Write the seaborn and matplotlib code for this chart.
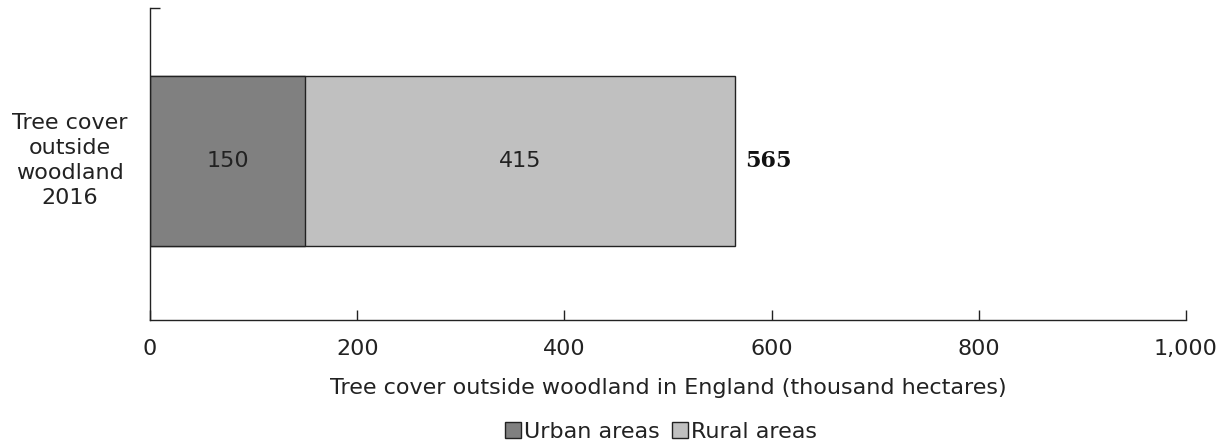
import matplotlib
matplotlib.use("Agg")
import matplotlib.pyplot as plt
import matplotlib.transforms as mtransforms
import seaborn as sns
import pandas as pd
from matplotlib.patches import Patch

categories = ["Tree cover\noutside\nwoodland\n2016"]
urban = [150]
rural = [415]
series_names = ["Urban areas", "Rural areas"]
x_ticks = [0, 200, 400, 600, 800, 1000]
x_tick_labels = ["0", "200", "400", "600", "800", "1,000"]
x_label = "Tree cover outside woodland in England (thousand hectares)"

sns.set_theme(style="white")
plt.rcParams['font.family'] = ['DejaVu Sans']
FS = 16
TXT = "#222222"

df = pd.DataFrame({
    "cat": categories,
    "urban": urban,
    "total": [u + r for u, r in zip(urban, rural)],
})

fig = plt.figure(figsize=(12.23, 4.45), dpi=100)
ax = fig.add_axes([150/1223, 1 - 320/445, (1186-150)/1223, (320-8)/445])

sns.barplot(data=df, y="cat", x="total", orient="h", color="#C0C0C0",
            edgecolor="#222222", linewidth=1.0, width=0.545, ax=ax, saturation=1)
sns.barplot(data=df, y="cat", x="urban", orient="h", color="#808080",
            edgecolor="#222222", linewidth=1.0, width=0.545, ax=ax, saturation=1)

ax.set_xlim(0, 1000)
ax.set_ylim(0.51, -0.49)
ax.set_xticks(x_ticks)
ax.set_xticklabels(x_tick_labels, fontsize=FS, color=TXT)
ax.tick_params(axis="x", bottom=True, direction="in", length=7, width=1,
               color="#222222", pad=14)
ax.set_xlabel(x_label, fontsize=FS, color=TXT, labelpad=13)
ax.set_ylabel("")

ax.set_yticks([0])
ax.set_yticklabels(categories, fontsize=FS, color=TXT, multialignment="center",
                   linespacing=1.32)
ax.tick_params(axis="y", which="major", left=True, length=0, pad=16)
ax.set_yticks([-0.49], minor=True)
ax.tick_params(axis="y", which="minor", left=True, direction="in", length=7, width=1,
               color="#222222")
shift = mtransforms.ScaledTranslation(0, 5 / 100, fig.dpi_scale_trans)
for t in ax.get_yticklabels():
    t.set_transform(t.get_transform() + shift)

for s in ["top", "right"]:
    ax.spines[s].set_visible(False)
for s in ["left", "bottom"]:
    ax.spines[s].set_color("#222222")
    ax.spines[s].set_linewidth(1.0)

for i, (u, r) in enumerate(zip(urban, rural)):
    ax.text(u / 2, i, f"{u}", ha="center", va="center", fontsize=FS, color=TXT)
    ax.text(u + r / 2, i, f"{r}", ha="center", va="center", fontsize=FS, color=TXT)
    ax.annotate(f"{u + r}", xy=(u + r, i), xytext=(10, 0), textcoords="offset pixels",
                ha="left", va="center", fontsize=16, fontweight="bold",
                family="DejaVu Serif", color="#111111")

handles = [Patch(facecolor="#808080", edgecolor="#222222", linewidth=1.0),
           Patch(facecolor="#C0C0C0", edgecolor="#222222", linewidth=1.0)]
fig.legend(handles, series_names, loc="center", bbox_to_anchor=(661/1223, 1 - 432/445),
           ncol=2, frameon=False, fontsize=FS, handlelength=0.7, handleheight=0.7,
           handletextpad=0.15, columnspacing=0.55, borderpad=0, labelcolor=TXT)

fig.savefig("out.png", dpi=100)
